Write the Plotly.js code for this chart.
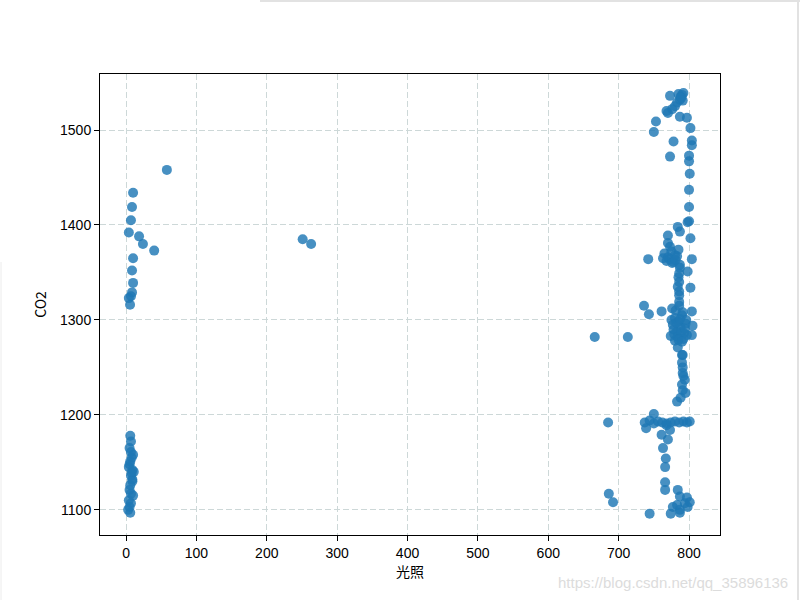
<!DOCTYPE html>
<html>
<head>
<meta charset="utf-8">
<script src="https://cdn.plot.ly/plotly-3.0.1.min.js"></script>
<style>html,body{margin:0;padding:0;background:#fff;}#chart{width:800px;height:600px;}</style>
</head>
<body>
<div id="chart"></div>
<script>
// light (光照) values
const lightLeft = [58,10,8.5,7,4,18.5,24,40,10,8.5,10,8.5,7,4,5.7,
  6,7,5,7,8,6,4,9,7,9,6,5,7,4,7,5,6,3,8,5,10,11,9,10];
const co2Left = [1458,1434,1419,1405,1392,1388,1380,1373,1365,1352,1339,1329,1325,1323,1316,
  1178,1172,1165,1161,1155,1151,1145,1142,1136,1132,1126,1121,1117,1110,1107,1103,1097,1100,1139,1148,1158,1140,1130,1115];

const lightMid = [251,263];
const co2Mid = [1385,1380];

const lightRight = [
  773,785,788,790,792,787,783,791,789,780,776,
  770,768,787,797,753,750,802,778,804,804,773,800,800,801,800,800,800,784,
  798,787,770,802,770,773,
  765,770,775,780,785,768,772,778,783,763,776,781,
  742,804,787,798,786,786,802,786,786,785,787,784,786,
  736,743,761,804,
  775,780,785,790,795,778,783,788,793,797,776,781,786,791,796,774,779,784,789,794,777,782,787,792,780,785,790,
  805,804,666,713,784,790,791,790,791,792,
  791,794,790,791,795,788,783,750,
  685,737,744,750,756,762,768,774,780,786,792,797,801,
  739,768,773,761,770,763,767,766,766,766,686,692,744,774,784,
  787,797,801,794,783,777,787,798,787
];
const co2Right = [
  1536,1538,1535,1537,1539,1532,1529,1531,1534,1525,1522,
  1518,1520,1514,1513,1509,1498,1502,1488,1489,1484,1472,1473,1467,1454,1437,1419,1404,1398,
  1403,1393,1389,1386,1381,1377,
  1370,1366,1372,1368,1374,1362,1364,1361,1367,1365,1360,1363,
  1364,1364,1358,1351,1349,1340,1334,1326,1319,1345,1355,1335,1330,
  1315,1306,1309,1309,
  1300,1302,1298,1305,1296,1290,1288,1292,1286,1284,1312,1310,1315,1308,1300,1283,1285,1282,1287,1291,1295,1297,1301,1280,1278,1279,1277,
  1294,1284,1282,1282,1271,1263,1263,1255,1250,1241,
  1244,1237,1232,1226,1223,1218,1214,1201,
  1192,1192,1194,1191,1193,1192,1191,1192,1193,1192,1193,1192,1193,
  1186,1189,1184,1179,1174,1165,1154,1145,1129,1121,1117,1108,1096,1096,1121,
  1114,1113,1108,1107,1105,1103,1100,1103,1097
];

const lightAll = lightLeft.concat(lightMid, lightRight);
const co2All = co2Left.concat(co2Mid, co2Right);

const xTicks = [0,100,200,300,400,500,600,700,800];
const yTicks = [1100,1200,1300,1400,1500];

const tickFont = {family: 'Liberation Sans, Arial, sans-serif', size: 14, color: '#000'};
const titleFont = {family: 'Noto Sans CJK SC, sans-serif', size: 14, color: '#000'};

const trace = {
  type: 'scatter', mode: 'markers',
  x: lightAll, y: co2All,
  marker: {size: 10, color: '#1f77b4', opacity: 0.82, line: {width: 0}},
  hoverinfo: 'skip'
};

const gridStyle = {showgrid: true, gridcolor: '#cdd8d8', griddash: '6px,3px', gridwidth: 1};

const layout = {
  width: 800, height: 600,
  margin: {l: 100, r: 80, t: 74, b: 65},
  paper_bgcolor: '#fff', plot_bgcolor: '#fff',
  showlegend: false,
  xaxis: Object.assign({
    range: [-37, 844], tickvals: xTicks, ticks: 'outside', ticklen: 5, tickcolor: '#000',
    showline: true, linecolor: '#000', linewidth: 1, mirror: true, zeroline: false,
    tickfont: tickFont,
    title: {text: '光照', font: titleFont, standoff: 6}
  }, gridStyle),
  yaxis: Object.assign({
    range: [1073.5, 1559], tickvals: yTicks, ticks: 'outside', ticklen: 5, tickcolor: '#000',
    showline: true, linecolor: '#000', linewidth: 1, mirror: true, zeroline: false,
    tickfont: tickFont,
    title: {text: 'CO2', font: titleFont, standoff: 10}
  }, gridStyle),
  shapes: [
    {type: 'line', xref: 'paper', yref: 'paper', x0: (260-100)/620, x1: (800-100)/620, y0: (535-1)/461, y1: (535-1)/461, line: {color: '#e2e2e2', width: 2}},
    {type: 'line', xref: 'paper', yref: 'paper', x0: (798-100)/620, x1: (798-100)/620, y0: (535-0)/461, y1: (535-600)/461, line: {color: '#e2e2e2', width: 2}},
    {type: 'line', xref: 'paper', yref: 'paper', x0: (1-100)/620, x1: (1-100)/620, y0: (535-262)/461, y1: (535-600)/461, line: {color: '#ececec', width: 1}}
  ],
  annotations: [
    {xref: 'paper', yref: 'paper', x: (790-100)/620, y: (535-582)/461, xanchor: 'right', yanchor: 'middle',
     text: 'https://blog.csdn.net/qq_35896136', showarrow: false,
     font: {family: 'Liberation Sans, Arial, sans-serif', size: 15, color: '#dcdcdc'}}
  ]
};

Plotly.newPlot('chart', [trace], layout, {displayModeBar: false, staticPlot: true});
</script>
</body>
</html>
